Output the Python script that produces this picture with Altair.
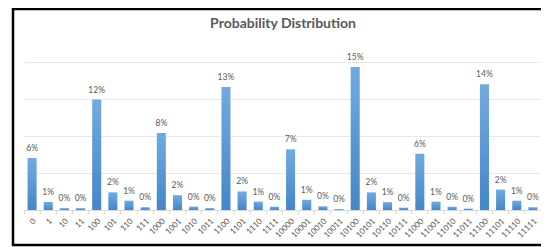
import altair as alt
import pandas as pd

states = ["0", "1", "10", "11", "100", "101", "110", "111",
          "1000", "1001", "1010", "1011", "1100", "1101", "1110", "1111",
          "10000", "10001", "10010", "10011", "10100", "10101", "10110", "10111",
          "11000", "11001", "11010", "11011", "11100", "11101", "11110", "11111"]
probs = [0.056, 0.0087, 0.002, 0.002, 0.119, 0.019, 0.010, 0.003,
         0.083, 0.016, 0.0036, 0.002, 0.1325, 0.020, 0.009, 0.0035,
         0.0654, 0.011, 0.004, 0.001, 0.154, 0.019, 0.0085, 0.0025,
         0.0607, 0.009, 0.0035, 0.0015, 0.1355, 0.022, 0.010, 0.003]
grid_values = [0.0, 0.02, 0.04, 0.06, 0.08, 0.10, 0.12, 0.14, 0.16, 0.18]
title_text = ["Probability Distribution"]

df = pd.DataFrame({"state": states, "p": probs})

FONT = "Lato"
GRAY = "#595959"

x_enc = alt.X(
    "state:N", sort=states,
    scale=alt.Scale(paddingInner=0.44, paddingOuter=0.22),
    axis=alt.Axis(title=None, labelAngle=-45, labelFontSize=8, labelColor=GRAY,
                  labelFont=FONT, domainColor="#D9D9D9", tickColor="#D9D9D9",
                  tickSize=4, bandPosition=-0.39, labelPadding=3),
)
y_enc = alt.Y(
    "p:Q", scale=alt.Scale(domain=[0, 0.18], nice=False),
    axis=alt.Axis(title=None, values=grid_values, labels=False, ticks=False,
                  domain=False, gridColor="#E8E8E8"),
)

bars = alt.Chart(df).mark_bar(
    color=alt.Gradient(
        gradient="linear",
        stops=[alt.GradientStop(color="#72AAE0", offset=0),
               alt.GradientStop(color="#4586C8", offset=1)],
        x1=0, x2=0, y1=0, y2=1,
    )
).encode(x=x_enc, y=y_enc)

labels = alt.Chart(df).mark_text(
    dy=-5, baseline="bottom", fontSize=8.5, color=GRAY, font=FONT
).encode(
    x=alt.X("state:N", sort=states),
    y="p:Q",
    text=alt.Text("p:Q", format=".0%"),
)

title = alt.Chart(pd.DataFrame({"t": title_text})).mark_text(
    fontSize=14, font=FONT, fontWeight="bold", color=GRAY,
    align="center", baseline="alphabetic"
).encode(x=alt.value(259), y=alt.value(-15), text="t:N")

border = alt.Chart(pd.DataFrame({"k": [0]})).mark_rect(
    fillOpacity=0, stroke="black", strokeWidth=2.5
).encode(
    x=alt.value(-11), x2=alt.value(600), y=alt.value(-34), y2=alt.value(202)
)

chart = alt.layer(bars, labels, title, border).properties(
    width=517, height=167,
    autosize=alt.AutoSizeParams(type="none"),
    padding={"left": 16, "top": 35, "right": 0, "bottom": 37},
).configure_view(stroke=None)

chart.save("out.html", embed_options={"renderer": "svg", "actions": False})
